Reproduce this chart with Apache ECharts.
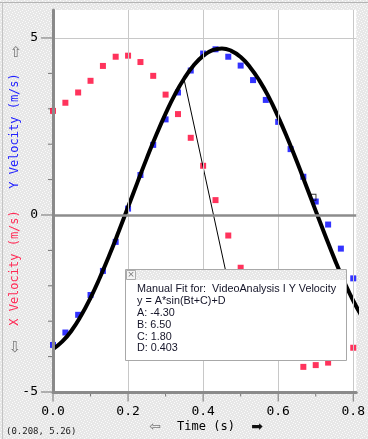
<!DOCTYPE html>
<html><head><meta charset="utf-8">
<script src="https://cdn.jsdelivr.net/npm/echarts@6/dist/echarts.min.js"></script>
<style>html,body{margin:0;padding:0;background:#ebebeb}#c{width:368px;height:439px}</style>
</head><body><div id="c"></div>
<script>
// ---- data ----
const times = [0.000,0.033,0.067,0.100,0.133,0.167,0.200,0.233,0.267,0.300,0.333,0.367,0.400,0.433,0.467,0.500,0.533,0.567,0.600,0.633,0.667,0.700,0.733,0.767,0.800];
const xVelocity = [2.94,3.17,3.46,3.79,4.21,4.47,4.50,4.32,3.93,3.40,2.85,2.18,1.39,0.42,-0.58,-1.49,-2.40,-3.20,-3.80,-3.98,-4.29,-4.24,-4.17,-3.95,-3.75];
const yVelocity = [-3.67,-3.32,-2.82,-2.26,-1.58,-0.76,0.18,1.13,1.98,2.70,3.46,4.08,4.56,4.68,4.47,4.22,3.81,3.25,2.63,1.86,1.08,0.38,-0.27,-0.95,-1.79];
const fitTimes = [0,0.025,0.05,0.075,0.1,0.125,0.15,0.175,0.2,0.225,0.25,0.275,0.3,0.325,0.35,0.375,0.4,0.425,0.45,0.475,0.5,0.525,0.55,0.575,0.6,0.625,0.65,0.675,0.7,0.725,0.75,0.775,0.8,0.825];
const fitValues = [-3.785,-3.572,-3.255,-2.837,-2.339,-1.766,-1.138,-0.469,0.224,0.922,1.606,2.259,2.861,3.407,3.863,4.228,4.495,4.655,4.703,4.636,4.461,4.176,3.796,3.327,2.771,2.160,1.502,0.813,0.116,-0.572,-1.240,-1.862,-2.422,-2.902];
const leaderLine = [[0.349,3.84],[0.459,-1.53]];
const cursorPoint = [[0.694,0.50]];
const xLabels = [0, 0.2, 0.4, 0.6, 0.8];
const xMinor = [0.1, 0.3, 0.5, 0.7];
const yLabels = [-5, 0, 5];
const yMinor = [-4,-3,-2,-1,1,2,3,4];
const xGrid = [0.2, 0.4, 0.6, 0.8];
const yGrid = [5];
const fitText = ['Manual Fit for:  VideoAnalysis I Y Velocity','y = A*sin(Bt+C)+D','A: -4.30','B: 6.50','C: 1.80','D: 0.403'];
const cursorReadout = '(0.208, 5.26)';

// ---- background texture ----
const tile = document.createElement('canvas'); tile.width = 6; tile.height = 6;
const tc = tile.getContext('2d'); tc.fillStyle = '#e7e7e7'; tc.fillRect(0,0,6,6);
tc.fillStyle = '#fbfbfb'; [[0,0],[3,1],[1,3],[4,4],[5,2],[2,5]].forEach(p=>tc.fillRect(p[0],p[1],1,1));

const chart = echarts.init(document.getElementById('c'));
const mono = 'DejaVu Sans Mono';
const zip = (a,b) => a.map((v,i)=>[v,b[i]]);

const option = {
  animation: false,
  backgroundColor: {image: tile, repeat: 'repeat'},
  grid: {left: 53, right: 8, top: 10, bottom: 47, show: true, backgroundColor: '#ffffff', borderWidth: 0},
  xAxis: {type: 'value', min: 0, max: 0.808, interval: 0.1, z: 10,
    axisLine: {show: true, onZero: false, lineStyle: {color: '#8a8a8a', width: 3}},
    axisTick: {show: false}, splitLine: {show: false},
    axisLabel: {margin: 13, color: '#000', fontFamily: mono, fontSize: 13, showMaxLabel: false,
      formatter: v => xLabels.some(x=>Math.abs(x-v)<1e-6) ? v.toFixed(1) : ''}},
  yAxis: {type: 'value', min: -5, max: 5.79, interval: 1, z: 10,
    axisLine: {show: true, onZero: false, lineStyle: {color: '#8a8a8a', width: 3}},
    axisTick: {show: false}, splitLine: {show: false},
    axisLabel: {margin: 15, color: '#000', fontFamily: mono, fontSize: 13, showMaxLabel: false,
      formatter: v => yLabels.some(y=>Math.abs(y-v)<1e-6) ? String(v) : ''}},
  series: [
    {type: 'line', data: [], z: 1, silent: true,
      markLine: {silent: true, symbol: 'none', label: {show: false}, animation: false,
        data: [
          ...xGrid.map(v=>({xAxis: v, lineStyle: {color: '#c8c8c8', width: 1, type: 'solid'}})),
          ...yGrid.map(v=>({yAxis: v, lineStyle: {color: '#c8c8c8', width: 1, type: 'solid'}})),
          {yAxis: 0, lineStyle: {color: '#8c8c8c', width: 2.5, type: 'solid'}}
        ]}},
    {name: 'X Velocity', type: 'scatter', symbol: 'rect', symbolSize: 6, z: 3,
      itemStyle: {color: '#ff0033'}, data: zip(times, xVelocity)},
    {name: 'Y Velocity', type: 'scatter', symbol: 'rect', symbolSize: 6, z: 3,
      itemStyle: {color: '#0000ff'}, data: zip(times, yVelocity)},
    {name: 'Fit', type: 'line', smooth: true, showSymbol: false, z: 4,
      lineStyle: {color: '#000', width: 4}, data: zip(fitTimes, fitValues)},
    {type: 'line', showSymbol: false, z: 4, lineStyle: {color: '#000', width: 1}, data: leaderLine},
    {type: 'scatter', symbol: 'rect', symbolSize: [5,6], z: 5,
      itemStyle: {color: 'rgba(0,0,0,0)', borderColor: '#000', borderWidth: 1}, data: cursorPoint},
    {type: 'scatter', symbol: 'rect', clip: false, z: 2, silent: true, itemStyle: {color: '#555'},
      symbolSize: [12,1], symbolOffset: [-6,0], data: yLabels.map(v=>[0,v])},
    {type: 'scatter', symbol: 'rect', clip: false, z: 2, silent: true, itemStyle: {color: '#555'},
      symbolSize: [5,1], symbolOffset: [-2.5,0], data: yMinor.map(v=>[0,v])},
    {type: 'scatter', symbol: 'rect', clip: false, z: 2, silent: true, itemStyle: {color: '#555'},
      symbolSize: [1,9], symbolOffset: [0,5], data: xLabels.map(v=>[v,-5])},
    {type: 'scatter', symbol: 'rect', clip: false, z: 2, silent: true, itemStyle: {color: '#555'},
      symbolSize: [1,4], symbolOffset: [0,2.5], data: xMinor.map(v=>[v,-5])}
  ],
  graphic: [
    {type: 'line', shape: {x1: 0, y1: 2.5, x2: 368, y2: 2.5}, style: {stroke: '#b4b4b4', lineWidth: 1}, z: 50},
    {type: 'line', shape: {x1: 2.5, y1: 2.5, x2: 2.5, y2: 439}, style: {stroke: '#c4c4c4', lineWidth: 1}, z: 50},
    {type: 'text', x: 16, y: 53, style: {text: '⇧', font: '15px "DejaVu Sans"', fill: '#777', align: 'center', verticalAlign: 'middle'}, z: 50},
    {type: 'text', x: 15, y: 348, style: {text: '⇩', font: '15px "DejaVu Sans"', fill: '#777', align: 'center', verticalAlign: 'middle'}, z: 50},
    {type: 'text', x: 15, y: 131, rotation: Math.PI/2, style: {text: 'Y Velocity (m/s)', font: '12px "DejaVu Sans Mono"', fill: '#2020ff', align: 'center', verticalAlign: 'middle'}, z: 50},
    {type: 'text', x: 15, y: 268, rotation: Math.PI/2, style: {text: 'X Velocity (m/s)', font: '12px "DejaVu Sans Mono"', fill: '#ff2a55', align: 'center', verticalAlign: 'middle'}, z: 50},
    {type: 'text', x: 206, y: 427, style: {text: 'Time (s)', font: '12px "DejaVu Sans Mono"', fill: '#000', align: 'center', verticalAlign: 'middle'}, z: 50},
    {type: 'text', x: 155, y: 427, style: {text: '⇦', font: '14px "DejaVu Sans"', fill: '#777', align: 'center', verticalAlign: 'middle'}, z: 50},
    {type: 'text', x: 257, y: 427, style: {text: '➡', font: '14px "DejaVu Sans"', fill: '#111', align: 'center', verticalAlign: 'middle'}, z: 50},
    {type: 'text', x: 6, y: 432, style: {text: cursorReadout, font: '9px "DejaVu Sans Mono"', fill: '#222', align: 'left', verticalAlign: 'middle'}, z: 50},
    {type: 'group', x: 125, y: 269, z: 100, children: [
      {type: 'rect', shape: {x: 0.5, y: 0.5, width: 221, height: 91}, style: {fill: '#fff', stroke: '#a8a8a8', lineWidth: 1}, z: 100},
      {type: 'rect', shape: {x: 1, y: 1, width: 220, height: 10}, style: {fill: {image: tile, repeat: 'repeat'}}, z: 101},
      {type: 'rect', shape: {x: 1.5, y: 1.5, width: 9, height: 9}, style: {fill: '#f4f4f4', stroke: '#aaa', lineWidth: 1}, z: 102},
      {type: 'text', x: 6, y: 6, style: {text: '×', font: '9px "DejaVu Sans"', fill: '#777', align: 'center', verticalAlign: 'middle'}, z: 103},
      ...fitText.map((t,i)=>({type: 'text', x: 12, y: 20.5 + i*11.8, style: {text: t, font: '10.8px "Liberation Sans"', fill: '#141428', align: 'left', verticalAlign: 'middle'}, z: 103}))
    ]}
  ]
};
chart.setOption(option);
</script>
</body></html>
